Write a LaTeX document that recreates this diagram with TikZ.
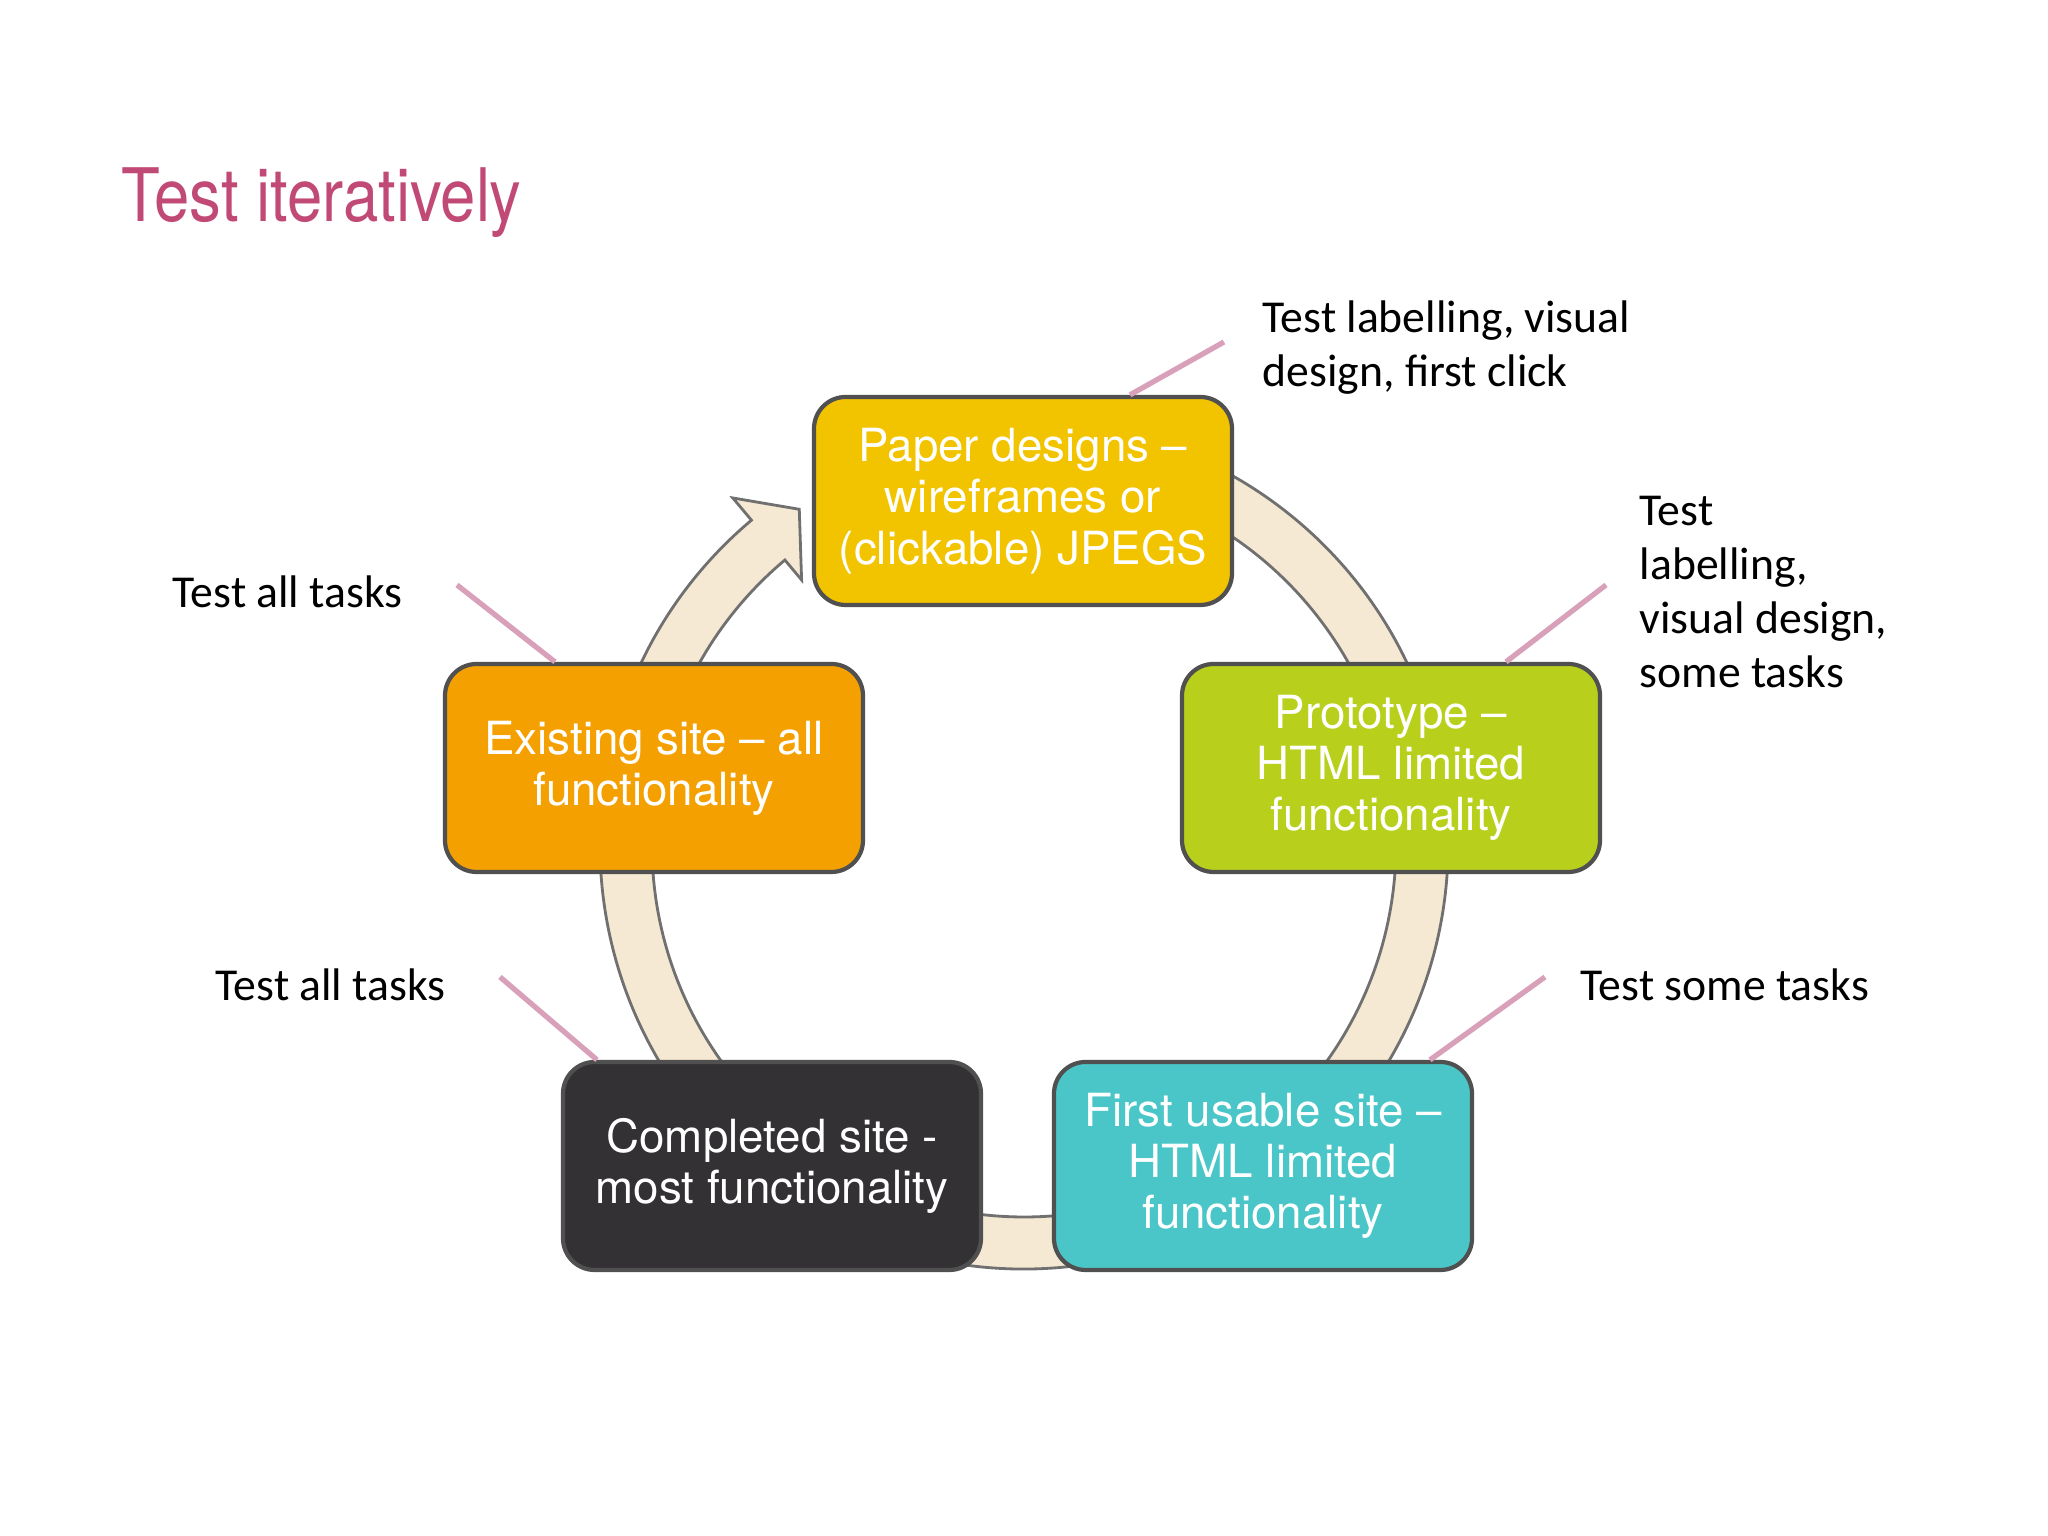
\documentclass[tikz,border=0pt]{standalone}
\usepackage{fontspec}
\setmainfont{TeX Gyre Heros}
\newfontfamily\notefont{Carlito}
\newfontfamily\titlefont[FakeStretch=0.86]{TeX Gyre Heros}
\definecolor{titlepink}{HTML}{C04A75}
\definecolor{leaderpink}{HTML}{D9A0BA}
\definecolor{ringfill}{HTML}{F6E9D3}
\definecolor{ringline}{HTML}{707070}
\definecolor{stageline}{HTML}{505050}
\definecolor{paperyellow}{HTML}{F2C400}
\definecolor{protogreen}{HTML}{B8D01C}
\definecolor{usablecyan}{HTML}{4AC6C8}
\definecolor{donedark}{HTML}{333134}
\definecolor{existorange}{HTML}{F4A000}

\begin{document}
\begin{tikzpicture}[
    stage/.style={draw=stageline, line width=1.2pt, rounded corners=9pt,
      minimum width=4.18cm, minimum height=2.08cm, inner sep=0pt,
      text=white, align=center, font=\fontsize{13}{14.6}\selectfont},
    note/.style={anchor=west, align=left, inner sep=0pt,
      font=\notefont\fontsize{13}{15.4}\selectfont},
    leader/.style={draw=leaderpink, line width=1.5pt},
    ring/.style={fill=ringfill, draw=ringline, line width=0.8pt}]
      \useasboundingbox (0, 0) rectangle (20.48, 15.36);
      %% title
      \node (title) [anchor=base west, inner sep=0pt, text=titlepink,
        font=\titlefont\fontsize{21}{24}\selectfont] at (1.21, 13.14) {Test iteratively};
      %% cycle arrow
      \begin{scope}[shift={(10.24, 6.91)}]
        \draw [ring] (100:4.24) arc [start angle=100, end angle=-230, radius=4.24]
          -- (-230:4.53) -- (-236.2:4.04) -- (-230:3.46) -- (-230:3.72)
          arc [start angle=-230, end angle=100, radius=3.72] -- cycle;
      \end{scope}
      %% stages
      \node (paper) [stage, fill=paperyellow] at (10.23, 10.35) {Paper designs --\\wireframes or\\(clickable) JPEGS};
      \node (proto) [stage, fill=protogreen] at (13.91, 7.68) {Prototype --\\HTML limited\\functionality};
      \node (usable) [stage, fill=usablecyan] at (12.63, 3.70) {First usable site --\\HTML limited\\functionality};
      \node (done) [stage, fill=donedark] at (7.72, 3.70) {Completed site -\\most functionality};
      \node (exist) [stage, fill=existorange] at (6.54, 7.68) {Existing site -- all\\functionality};
      %% notes
      \node (notepaper) [note] at (12.62, 11.88) {Test labelling, visual\\design, first click};
      \node (noteproto) [note] at (16.39, 9.44) {Test\\labelling,\\visual design,\\some tasks};
      \node (noteexist) [note] at (1.72, 9.44) {Test all tasks};
      \node (notedone) [note] at (2.15, 5.51) {Test all tasks};
      \node (noteusable) [note] at (15.80, 5.51) {Test some tasks};
      %% leaders
      \coordinate (lpaper) at (12.24, 11.94);
      \coordinate (lproto) at (16.06, 9.51);
      \coordinate (lexist) at (4.57, 9.51);
      \coordinate (ldone) at (5.00, 5.59);
      \coordinate (lusable) at (15.45, 5.59);
      \draw [leader] (lpaper) -- ([xshift=1.07cm]paper.north);
      \draw [leader] (lproto) -- ([xshift=1.15cm]proto.north);
      \draw [leader] (lexist) -- ([xshift=-0.99cm]exist.north);
      \draw [leader] (ldone) -- ([xshift=-1.75cm]done.north);
      \draw [leader] (lusable) -- ([xshift=1.67cm]usable.north);
    \end{tikzpicture}
\end{document}
